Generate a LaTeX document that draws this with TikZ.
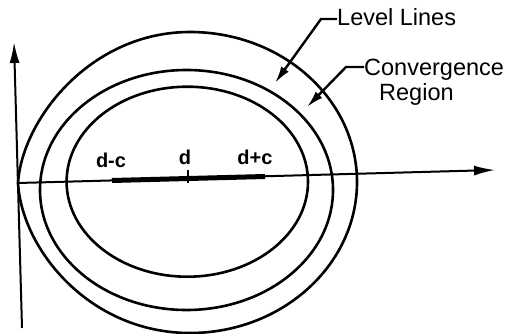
\documentclass[tikz,border=0pt]{standalone}
\usepackage{fontspec}
\setmainfont{Liberation Sans}
\usetikzlibrary{arrows.meta}
\begin{document}
\begin{tikzpicture}[x=1pt,y=-1pt,
  curve/.style={line width=2.6pt},
  axis/.style={line width=2pt,-{Latex[length=21pt,width=10pt]}},
  leader/.style={line width=2.4pt,-{Latex[length=17pt,width=9pt]}},
  lbl/.style={font=\fontsize{23.5}{28}\selectfont,inner sep=0pt},
  dl/.style={font=\bfseries\fontsize{20}{24}\selectfont,inner sep=0pt,anchor=base}]
\useasboundingbox (0,0) rectangle (508,334);
% axes
\coordinate (O) at (18,183);
\coordinate (ybot) at (22,328);
\coordinate (ytop) at (14,42);
\coordinate (xend) at (495,170);
\draw[axis] (ybot) -- (ytop);
\draw[axis] (O) -- (xend);
% level lines
\draw[curve] (O) .. controls (22,120) and (90,32) .. (190,32)
  .. controls (282,32) and (357,99) .. (357,182)
  .. controls (357,265) and (282,333) .. (190,333)
  .. controls (90,333) and (22,250) .. (O);
\draw[curve] (186.5,190) ellipse [x radius=146.5, y radius=120];
\draw[curve] (187.3,181.7) ellipse [x radius=120.7, y radius=95];
% segment
\coordinate (a) at (112,180.5);
\coordinate (b) at (265,176.5);
\coordinate (dt) at (188,170);
\coordinate (db) at (188,183);
\draw[line width=5pt] (a) -- (b);
\draw[line width=1.6pt] (dt) -- (db);
\node[dl] (dmc) at (111,167) {d-c};
\node[dl] (d) at (185,164) {d};
\node[dl] (dpc) at (255,164) {d+c};
% labels
\node[lbl,anchor=base west] (lvl) at (337,26) {Level Lines};
\node[lbl,anchor=base west] (conv) at (364,76) {Convergence};
\node[lbl,anchor=base west] (reg) at (379,100) {Region};
\coordinate (t1) at (275,83);
\coordinate (t2) at (307,107);
\draw[leader] ([yshift=7pt]lvl.base west) -- ++(-16,0) -- (t1);
\draw[leader] ([yshift=9pt]conv.base west) -- ++(-18,0) -- (t2);
\end{tikzpicture}
\end{document}
